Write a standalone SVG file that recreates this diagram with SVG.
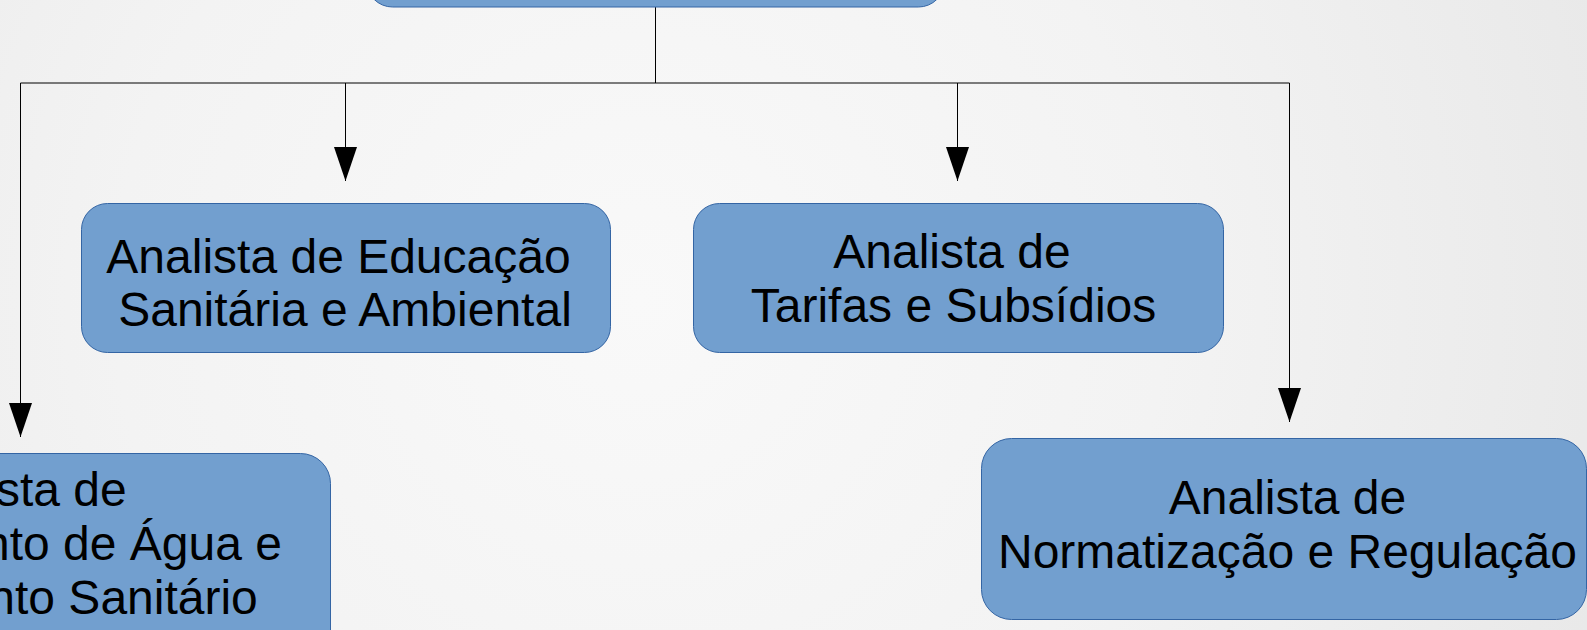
<svg xmlns="http://www.w3.org/2000/svg" width="1587" height="630" viewBox="0 0 1587 630">
<defs>
<radialGradient id="bg" cx="640" cy="300" r="1050" gradientUnits="userSpaceOnUse">
<stop offset="0" stop-color="#f9f9f9"/>
<stop offset="0.5" stop-color="#f3f3f3"/>
<stop offset="1" stop-color="#e8e8e8"/>
</radialGradient>
<marker id="arr" markerUnits="userSpaceOnUse" markerWidth="34" markerHeight="23" refX="34" refY="11.5" orient="auto" viewBox="0 0 34 23">
<path d="M0,0 L34,11.5 L0,23 Z" fill="#000"/>
</marker>
</defs>
<style>
.box{fill:#729fcf;stroke:#3465a4;stroke-width:1}
.t{font-family:"Liberation Sans",Arial,sans-serif;font-size:48px;fill:#000;text-anchor:middle}
.c{fill:none;stroke:#000;stroke-width:1}
</style>
<rect x="0" y="0" width="1587" height="630" fill="url(#bg)"/>
<g id="connectors">
<path class="c" d="M655.5,7 V83"/>
<path class="c" d="M20.5,83 H1289.5"/>
<path class="c" d="M345.5,83 V181" marker-end="url(#arr)"/>
<path class="c" d="M957.5,83 V181" marker-end="url(#arr)"/>
<path class="c" d="M20.5,83 V437" marker-end="url(#arr)"/>
<path class="c" d="M1289.5,83 V422" marker-end="url(#arr)"/>
</g>
<g id="node-top">
<rect class="box" x="366.5" y="-60" width="578" height="67" rx="26"/>
</g>
<g id="node-educacao">
<rect class="box" x="81.5" y="203.5" width="529" height="149" rx="26"/>
<text class="t" x="338.5" y="273">Analista de Educação</text>
<text class="t" x="345" y="326">Sanitária e Ambiental</text>
</g>
<g id="node-tarifas">
<rect class="box" x="693.5" y="203.5" width="530" height="149" rx="26"/>
<text class="t" x="952" y="268">Analista de</text>
<text class="t" x="953.5" y="322">Tarifas e Subsídios</text>
</g>
<g id="node-agua">
<rect class="box" x="-290" y="453.5" width="620.5" height="210" rx="30"/>
<text class="t" x="8" y="506">Analista de</text>
<text class="t" x="7" y="560">Abastecimento de Água e</text>
<text class="t" x="15" y="614">Esgotamento Sanitário</text>
</g>
<g id="node-normatizacao">
<rect class="box" x="981.5" y="438.5" width="605" height="181" rx="30"/>
<text class="t" x="1287.5" y="514">Analista de</text>
<text class="t" x="1287.5" y="568">Normatização e Regulação</text>
</g>
</svg>
